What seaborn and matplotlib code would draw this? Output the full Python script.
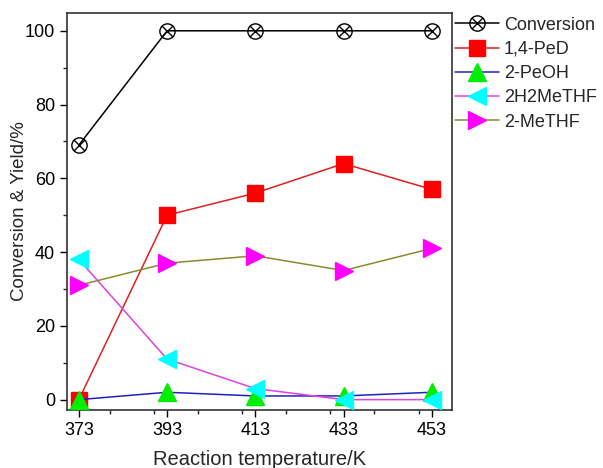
import numpy as np
import matplotlib
matplotlib.use('Agg')
import matplotlib.pyplot as plt
import seaborn as sns
from matplotlib.path import Path
from matplotlib.ticker import MultipleLocator

sns.set_style('ticks')
plt.rcParams['font.family'] = ['Liberation Sans', 'DejaVu Sans']

# data
temps = [373, 393, 413, 433, 453]
conversion = [69, 100, 100, 100, 100]
ped = [0, 50, 56, 64, 57]
peoh = [0, 2, 1, 1, 2]
h2methf = [38, 11, 3, 0, 0]
methf = [31, 37, 39, 35, 41]

# circle with a cross inside, like the Origin marker
circ = Path.unit_circle()
s = 0.7071
cross = Path([(-s, -s), (s, s), (-s, s), (s, -s)],
             [Path.MOVETO, Path.LINETO, Path.MOVETO, Path.LINETO])
otimes = Path.make_compound_path(circ, cross)

fig = plt.figure(figsize=(6.03, 4.68), dpi=100)
ax = fig.add_axes([0.111, 0.124, 0.638, 0.848])

series = [
    ('Conversion', conversion, 'black', otimes, 'none', 'black', 11),
    ('1,4-PeD', ped, '#e02020', 's', 'red', 'red', 11),
    ('2-PeOH', peoh, '#2020c0', '^', '#00ee00', '#00ee00', 13),
    ('2H2MeTHF', h2methf, '#e040e0', '<', 'cyan', 'cyan', 13),
    ('2-MeTHF', methf, '#8a8a30', '>', 'magenta', 'magenta', 13),
]

for name, vals, lc, mk, mfc, mec, ms in series:
    sns.lineplot(x=temps, y=vals, ax=ax, color=lc, lw=1.1, marker=mk,
                 markersize=ms, markerfacecolor=mfc, markeredgecolor=mec,
                 markeredgewidth=1.0, label=name, zorder=3)

ax.set_xlim(370.3, 457.5)
ax.set_ylim(-2.8, 104.8)
ax.set_xticks(temps)
ax.xaxis.set_minor_locator(MultipleLocator(10))
ax.yaxis.set_major_locator(MultipleLocator(20))
ax.yaxis.set_minor_locator(MultipleLocator(10))
ax.tick_params(axis='both', which='major', direction='out', length=5, width=1,
               labelsize=13, colors='black')
ax.tick_params(axis='both', which='minor', direction='out', length=3, width=1)
for sp in ax.spines.values():
    sp.set_visible(True)
    sp.set_linewidth(1.2)
    sp.set_color('#333333')

ax.set_xlabel('Reaction temperature/K', fontsize=14.5, labelpad=8)
ax.set_ylabel('Conversion & Yield/%', fontsize=13.5)
ax.yaxis.set_label_coords(-0.10, 0.5)

ax.legend(loc='upper left', bbox_to_anchor=(1.0, 1.0), frameon=False,
          fontsize=13, handlelength=2.4, handletextpad=0.3,
          labelspacing=0.4, borderaxespad=0.0, borderpad=0.2)

fig.savefig('out.png', dpi=100)
